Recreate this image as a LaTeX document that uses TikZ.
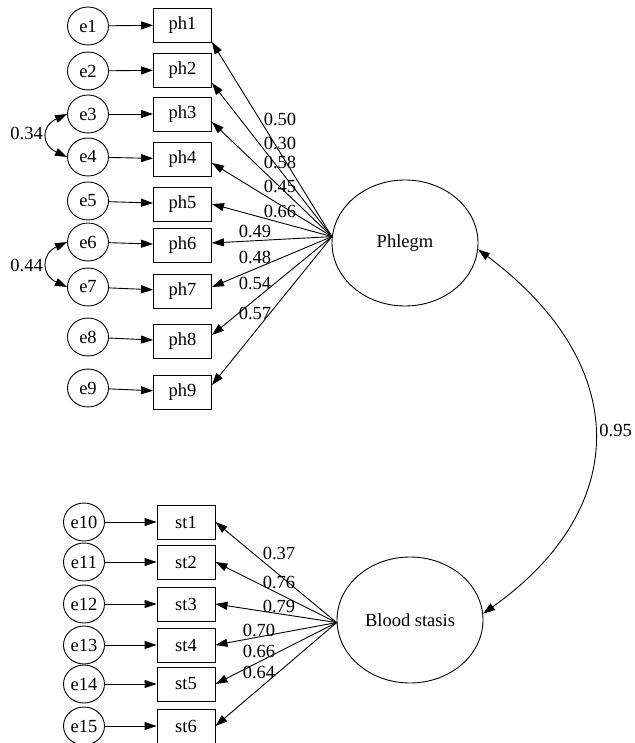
\documentclass[tikz,border=0pt]{standalone}
\usepackage{fontspec}
\setmainfont{Liberation Serif}
\usepackage{tikz}
\usetikzlibrary{
  arrows.meta,
  positioning,
  shapes.geometric,
}
\tikzset{
  latent/.style={
    ellipse, draw, line width=0.9pt, inner sep=0pt,
    minimum width=146pt, minimum height=126pt,
  },
  obsbox/.style={
    rectangle, draw, line width=0.9pt, inner sep=0pt,
    minimum width=58pt, minimum height=34pt,
  },
  errnode/.style={
    ellipse, draw, line width=0.9pt, inner sep=0pt,
    minimum width=41pt, minimum height=38pt,
  },
  arrowPath/.style={
    -{Triangle[length=12pt,width=8pt]}, line width=0.9pt,
  },
  arrowCov/.style={
    {Triangle[length=12pt,width=8pt]}-{Triangle[length=12pt,width=8pt]},
    line width=0.9pt,
  },
  coef/.style={inner sep=0pt},
}

\begin{document}
\begin{tikzpicture}[x=1pt, y=-1pt, font=\fontsize{18.5}{22}\selectfont]
\useasboundingbox (0,0) rectangle (634,743);
% latent factors
\node[latent] (phl) at (405,243) {Phlegm};
\node[latent] (bls) at (410,620) {Blood stasis};
% phlegm indicators
\foreach \i/\y/\ey/\dy/\lx/\ly/\w in {
    1/25/26/-17/280/119/0.50, 2/70/71/-13/280/143/0.30,
    3/114/114/-8/280/162/0.58, 4/159/157/-4/280/186/0.45,
    5/204/201/0/280/211/0.66, 6/245/242/2/255/231/0.49,
    7/291/287/4/255/257/0.48, 8/341.5/337/6.5/255/283/0.54,
    9/392/388/7/255/313/0.57}{
  \node[obsbox] (ph\i) at (182.5,\y) {ph\i};
  \node[errnode] (e\i) at (88,\ey) {e\i};
  \draw[arrowPath] (e\i) -- (ph\i);
  \draw[arrowPath] (phl.175) -- ([yshift=\dy pt]ph\i.east);
  \node[coef] (lph\i) at (\lx,\ly) {\w};
}
% blood stasis indicators
\foreach \i/\e/\y/\lx/\ly/\w in {
    1/10/522/279/553/0.37, 2/11/562/279/582/0.76,
    3/12/604/279/606/0.79, 4/13/645/259/630/0.70,
    5/14/684/259/651/0.66, 6/15/726/259/672/0.64}{
  \node[obsbox] (st\i) at (186,\y) {st\i};
  \node[errnode] (e\e) at (84,\y) {e\e};
  \draw[arrowPath] (e\e) -- (st\i);
  \draw[arrowPath] (bls.182) -- (st\i.east);
  \node[coef] (lst\i) at (\lx,\ly) {\w};
}
% error covariances
\draw[arrowCov] (e3.west) .. controls +(-26,12) and +(-26,-12) .. (e4.west);
\node[coef, anchor=east] (c34) at (43,133) {0.34};
\draw[arrowCov] (e6.west) .. controls +(-26,12) and +(-26,-12) .. (e7.west);
\node[coef, anchor=east] (c67) at (43,265) {0.44};
% factor correlation
\draw[arrowCov] (phl.-5) .. controls +(155,116) and +(148,-105) .. (bls.5);
\node[coef, anchor=east] (c95) at (632,430) {0.95};
\end{tikzpicture}
\end{document}
